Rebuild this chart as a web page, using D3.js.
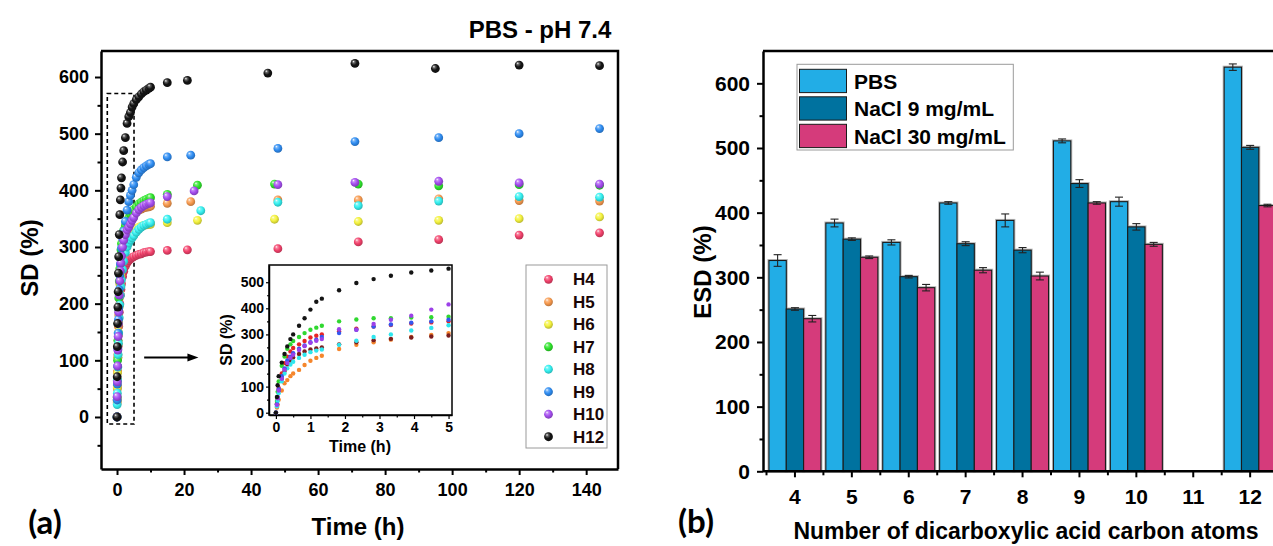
<!DOCTYPE html>
<html>
<head>
<meta charset="utf-8">
<script src="https://cdn.jsdelivr.net/npm/d3@7"></script>
<style>
  html, body { margin: 0; padding: 0; background: #fff; overflow: hidden; }
  svg { display: block; }
</style>
</head>
<body>
<svg id="chart" width="1273" height="546"></svg>
<script>
// ---------------- Panel (a): swelling degree vs time in PBS ----------------
const seriesNames  = ["H4", "H5", "H6", "H7", "H8", "H9", "H10", "H12"];
const seriesColors = ["#f2426c", "#f89a4e", "#f4f23e", "#2fe42c", "#34f0f0", "#2f8df2", "#a64ef0", "#141414"];

// dense sampling during the first 10 h
const earlyTimes = [0, 0.05, 0.1, 0.17, 0.25, 0.33, 0.42, 0.5, 0.67, 0.83, 1, 1.17, 1.33, 1.67, 2, 2.5, 3, 3.5, 4, 4.5, 5, 5.75, 6.5, 7.25, 8, 8.75, 9.5, 10];
const earlyValues = [
  [0, 30, 55, 80, 105, 125, 145, 160, 185, 200, 215, 225, 235, 248, 257, 266, 272, 276, 279, 281, 283, 285, 287, 288, 290, 291, 292, 292],
  [0, 25, 50, 80, 110, 135, 160, 180, 210, 235, 255, 270, 285, 305, 318, 330, 340, 347, 352, 356, 359, 362, 365, 367, 369, 370, 371, 372],
  [0, 28, 52, 78, 105, 128, 150, 168, 195, 218, 235, 250, 262, 278, 290, 302, 311, 318, 323, 327, 330, 333, 335, 337, 338, 339, 340, 340],
  [0, 35, 65, 100, 135, 165, 190, 210, 240, 262, 280, 295, 306, 320, 330, 338, 345, 352, 358, 362, 366, 371, 376, 379, 382, 384, 386, 387],
  [0, 22, 42, 65, 88, 110, 130, 148, 175, 198, 215, 230, 242, 260, 275, 290, 300, 307, 312, 316, 320, 326, 331, 335, 338, 340, 342, 343],
  [0, 30, 58, 90, 120, 148, 172, 192, 225, 250, 270, 285, 298, 315, 328, 345, 365, 380, 391, 400, 410, 423, 431, 436, 440, 443, 446, 447],
  [0, 36, 62, 90, 118, 142, 165, 185, 215, 240, 258, 272, 284, 300, 312, 322, 330, 335, 341, 347, 352, 360, 366, 370, 373, 375, 377, 378],
  [0, 71, 124, 165, 194, 221, 254, 283, 322, 357, 383, 404, 422, 450, 470, 493, 518, 530, 537, 547, 553, 560, 565, 570, 574, 577, 580, 582]
];

// sparse sampling up to 6 days
const lateTimes = [
  [15, 21, 48, 72, 96, 120, 144],
  [15, 22, 48, 72, 96, 120, 144],
  [15, 24, 47, 72, 96, 120, 144],
  [15, 24, 47, 72, 96, 120, 144],
  [15, 25, 48, 72, 96, 120, 144],
  [15, 22, 48, 71, 96, 120, 144],
  [15, 23, 48, 71, 96, 120, 144],
  [15, 21, 45, 71, 95, 120, 144]
];
const lateValues = [
  [294, 295, 297, 309, 313, 321, 325],
  [377, 380, 383, 383, 385, 382, 381],
  [343, 347, 349, 345, 347, 350, 353],
  [393, 409, 411, 411, 408, 410, 409],
  [349, 364, 379, 373, 381, 389, 388],
  [459, 462, 474, 486, 493, 500, 509],
  [389, 399, 410, 414, 416, 413, 411],
  [590, 594, 607, 624, 615, 621, 620]
];

const timeTicks      = [0, 20, 40, 60, 80, 100, 120, 140];
const timeMinorTicks = [10, 30, 50, 70, 90, 110, 130];
const sdTicks        = [0, 100, 200, 300, 400, 500, 600];
const sdMinorTicks   = [-50, 50, 150, 250, 350, 450, 550];

// inset: first 5 h
const insetTimes = [0, 0.03, 0.05, 0.08, 0.17, 0.25, 0.33, 0.42, 0.5, 0.67, 0.83, 1, 1.17, 1.33, 1.83, 2.33, 2.83, 3.33, 3.92, 4.5, 5.0];
const insetColors = ["#e82424", "#f5862c", "#7c1e1e", "#30d830", "#30e6ee", "#3258f0", "#9c40e8", "#141414"];
const insetValues = [
  [0, 35, 60, 95, 150, 190, 215, 235, 248, 262, 275, 288, 295, 300, 312, 322, 330, 336, 342, 346, 350],
  [0, 20, 30, 50, 85, 113, 125, 140, 150, 164, 183, 199, 210, 218, 244, 260, 270, 280, 290, 298, 305],
  [0, 30, 55, 85, 130, 160, 185, 200, 212, 225, 235, 242, 246, 250, 262, 270, 278, 283, 288, 292, 296],
  [0, 45, 80, 120, 180, 215, 245, 262, 275, 290, 305, 318, 326, 333, 350, 357, 362, 362, 365, 366, 368],
  [0, 25, 45, 75, 120, 150, 170, 185, 195, 210, 222, 232, 238, 242, 260, 276, 290, 300, 315, 325, 335],
  [0, 32, 58, 90, 140, 170, 200, 215, 228, 245, 258, 270, 280, 290, 305, 318, 330, 338, 345, 350, 356],
  [0, 30, 55, 85, 130, 165, 190, 210, 222, 240, 255, 268, 276, 282, 320, 318, 340, 356, 372, 395, 415],
  [0, 60, 105, 140, 192, 225, 254, 282, 300, 333, 362, 395, 425, 437, 469, 497, 512, 525, 537, 545, 552]
];
const insetTimeTicks  = [0, 1, 2, 3, 4, 5];
const insetTimeMinor  = [0.5, 1.5, 2.5, 3.5, 4.5];
const insetSdTicks    = [0, 100, 200, 300, 400, 500];
const insetSdMinor    = [50, 150, 250, 350, 450];

// ---------------- Panel (b): equilibrium swelling degree ----------------
const carbonAtoms  = ["4", "5", "6", "7", "8", "9", "10", "11", "12"];
const barSeries    = ["PBS", "NaCl 9 mg/mL", "NaCl 30 mg/mL"];
const barColors    = ["#22ade6", "#00729f", "#d53b7b"];
const pbsValues    = [326, 384, 354, 415, 388, 511, 417, null, 625];
const pbsErrors    = [9, 6, 4, 2, 10, 3, 7, null, 5];
const nacl9Values  = [251, 359, 301, 352, 342, 445, 378, null, 501];
const nacl9Errors  = [2, 2, 2, 3, 4, 6, 5, null, 3];
const nacl30Values = [236, 331, 284, 311, 302, 415, 351, null, 411];
const nacl30Errors = [5, 2, 5, 4, 6, 2, 3, null, 2];
const esdTicks      = [0, 100, 200, 300, 400, 500, 600];
const esdMinorTicks = [50, 150, 250, 350, 450, 550];

// ---------------------------------------------------------------------------
const FONT = '"Liberation Sans", Arial, sans-serif';
const svg = d3.select("#chart");
const defs = svg.append("defs");

// glossy sphere fills for the markers
seriesColors.forEach((c, i) => {
  const g = defs.append("radialGradient").attr("id", "ball" + i)
    .attr("cx", "45%").attr("cy", "42%").attr("r", "62%")
    .attr("fx", "32%").attr("fy", "28%");
  g.append("stop").attr("offset", "0%").attr("stop-color", "#ffffff");
  g.append("stop").attr("offset", "22%").attr("stop-color", d3.interpolateRgb(c, "#ffffff")(0.35));
  g.append("stop").attr("offset", "55%").attr("stop-color", c);
  g.append("stop").attr("offset", "100%").attr("stop-color", d3.color(c).darker(0.9).formatHex());
});

function styleAxis(g, size, domainWidth) {
  g.attr("font-family", FONT).attr("font-size", size).attr("font-weight", "bold");
  g.select(".domain").attr("stroke", "#000").attr("stroke-width", domainWidth);
  g.selectAll(".tick line").attr("stroke", "#000").attr("stroke-width", domainWidth * 0.8);
  g.selectAll(".tick text").attr("fill", "#000");
  return g;
}

// ===== Panel (a) =====
const xA = d3.scaleLinear().domain([-4.78, 149.5]).range([101, 618]);
const yA = d3.scaleLinear().domain([-91.8, 645.9]).range([469, 51]);

const pA = svg.append("g");

// frame (top / right)
pA.append("path").attr("d", `M${xA.range()[0]},${yA.range()[1]}H${xA.range()[1]}V${yA.range()[0]}`)
  .attr("fill", "none").attr("stroke", "#000").attr("stroke-width", 2.5);

styleAxis(pA.append("g").attr("transform", `translate(0,${yA.range()[0]})`)
  .call(d3.axisBottom(xA).tickValues(timeTicks).tickSize(6).tickSizeOuter(0).tickPadding(8)), 18, 2.5);
styleAxis(pA.append("g").attr("transform", `translate(0,${yA.range()[0]})`)
  .call(d3.axisBottom(xA).tickValues(timeMinorTicks).tickSize(3.5).tickFormat(() => "")), 18, 2.5)
  .select(".domain").remove();
styleAxis(pA.append("g").attr("transform", `translate(${xA.range()[0]},0)`)
  .call(d3.axisLeft(yA).tickValues(sdTicks).tickSize(6).tickSizeOuter(0).tickPadding(6)), 18, 2.5);
styleAxis(pA.append("g").attr("transform", `translate(${xA.range()[0]},0)`)
  .call(d3.axisLeft(yA).tickValues(sdMinorTicks).tickSize(3.5).tickFormat(() => "")), 18, 2.5)
  .select(".domain").remove();

// dashed box around the first hours
pA.append("rect")
  .attr("x", xA(-2.9)).attr("y", yA(571))
  .attr("width", xA(5.07) - xA(-2.9)).attr("height", yA(-12.3) - yA(571))
  .attr("fill", "none").attr("stroke", "#000").attr("stroke-width", 1.6).attr("stroke-dasharray", "4,3");

// arrow pointing to the inset
{
  const ay = yA(105), ax1 = xA(8.1), ax2 = xA(24.3);
  pA.append("line").attr("x1", ax1).attr("x2", ax2 - 9).attr("y1", ay).attr("y2", ay)
    .attr("stroke", "#000").attr("stroke-width", 2);
  pA.append("path").attr("d", `M${ax2},${ay}L${ax2 - 11},${ay - 4}L${ax2 - 11},${ay + 4}Z`).attr("fill", "#000");
}

// markers
const pointsA = pA.append("g");
seriesNames.forEach((name, i) => {
  const pts = earlyTimes.map((t, k) => [t, earlyValues[i][k]])
    .concat(lateTimes[i].map((t, k) => [t, lateValues[i][k]]));
  pointsA.append("g").selectAll("circle").data(pts).join("circle")
    .attr("cx", d => xA(d[0])).attr("cy", d => yA(d[1])).attr("r", 4.4)
    .attr("fill", `url(#ball${i})`);
});

// legend
{
  const lg = pA.append("g");
  lg.append("rect").attr("x", 526).attr("y", 265).attr("width", 81).attr("height", 183)
    .attr("fill", "#fff").attr("stroke", "#9a9a9a").attr("stroke-width", 1);
  seriesNames.forEach((name, i) => {
    const y = 279.3 + i * 22.49;
    lg.append("circle").attr("cx", 548.5).attr("cy", y).attr("r", 4.4).attr("fill", `url(#ball${i})`);
    lg.append("text").attr("x", 573).attr("y", y).attr("dy", "0.36em")
      .attr("font-family", FONT).attr("font-size", 17).attr("font-weight", "bold").attr("fill", "#1a0606")
      .text(name);
  });
}

// inset
const xI = d3.scaleLinear().domain([-0.2, 5.1]).range([269, 452]);
const yI = d3.scaleLinear().domain([-8.8, 566]).range([415, 265]);
{
  const gi = pA.append("g");
  gi.append("rect").attr("x", xI.range()[0]).attr("y", yI.range()[1])
    .attr("width", xI.range()[1] - xI.range()[0]).attr("height", yI.range()[0] - yI.range()[1])
    .attr("fill", "#fff").attr("stroke", "#000").attr("stroke-width", 1.5);
  styleAxis(gi.append("g").attr("transform", `translate(0,${yI.range()[0]})`)
    .call(d3.axisBottom(xI).tickValues(insetTimeTicks).tickFormat(d3.format("d"))
      .tickSize(4).tickSizeOuter(0).tickPadding(3)), 14, 1.5);
  styleAxis(gi.append("g").attr("transform", `translate(0,${yI.range()[0]})`)
    .call(d3.axisBottom(xI).tickValues(insetTimeMinor).tickSize(2.5).tickFormat(() => "")), 14, 1.5)
    .select(".domain").remove();
  styleAxis(gi.append("g").attr("transform", `translate(${xI.range()[0]},0)`)
    .call(d3.axisLeft(yI).tickValues(insetSdTicks).tickFormat(d3.format("d"))
      .tickSize(3).tickSizeOuter(0).tickPadding(2)), 14, 1.5);
  styleAxis(gi.append("g").attr("transform", `translate(${xI.range()[0]},0)`)
    .call(d3.axisLeft(yI).tickValues(insetSdMinor).tickSize(2).tickFormat(() => "")), 14, 1.5)
    .select(".domain").remove();

  insetValues.forEach((vals, i) => {
    gi.append("g").selectAll("circle").data(insetTimes.map((t, k) => [t, vals[k]])).join("circle")
      .attr("cx", d => xI(d[0])).attr("cy", d => yI(d[1])).attr("r", 2.2)
      .attr("fill", insetColors[i]);
  });

  gi.append("text").attr("x", 360).attr("y", 452).attr("text-anchor", "middle")
    .attr("font-family", FONT).attr("font-size", 16).attr("font-weight", "bold").text("Time (h)");
  gi.append("text").attr("transform", "translate(232,340) rotate(-90)").attr("text-anchor", "middle")
    .attr("font-family", FONT).attr("font-size", 16).attr("font-weight", "bold").text("SD (%)");
}

// titles (a)
pA.append("text").attr("x", 540).attr("y", 38).attr("text-anchor", "middle")
  .attr("font-family", FONT).attr("font-size", 24).attr("font-weight", "bold").text("PBS - pH 7.4");
pA.append("text").attr("x", 358).attr("y", 535).attr("text-anchor", "middle")
  .attr("font-family", FONT).attr("font-size", 24).attr("font-weight", "bold").text("Time (h)");
pA.append("text").attr("transform", "translate(38,258) rotate(-90)").attr("text-anchor", "middle")
  .attr("font-family", FONT).attr("font-size", 24).attr("font-weight", "bold").text("SD (%)");
pA.append("text").attr("x", 45).attr("y", 534).attr("text-anchor", "middle")
  .attr("font-family", "Lato, 'Open Sans', sans-serif").attr("font-size", 33).attr("font-weight", "bold").text("(a)");

// ===== Panel (b) =====
const xB = d3.scaleBand().domain(carbonAtoms).range([766.5, 1278.6]).padding(0);
const yB = d3.scaleLinear().domain([0, 650]).range([471.3, 51]);
const axisLeftX = 763;
const pB = svg.append("g");

// frame top
pB.append("line").attr("x1", axisLeftX).attr("x2", 1290).attr("y1", yB.range()[1]).attr("y2", yB.range()[1])
  .attr("stroke", "#000").attr("stroke-width", 2.5);

// bars
const groupWidth = xB.bandwidth() * 0.914;
const x1 = d3.scaleBand().domain(barSeries).range([0, groupWidth]).padding(0);
const barData = [];
[[pbsValues, pbsErrors], [nacl9Values, nacl9Errors], [nacl30Values, nacl30Errors]].forEach(([vals, errs], s) => {
  carbonAtoms.forEach((c, k) => {
    if (vals[k] != null) barData.push({ c, s, v: vals[k], e: errs[k] });
  });
});
const barX = d => xB(d.c) + (xB.bandwidth() - groupWidth) / 2 + x1(barSeries[d.s]);

const bars = pB.append("g");
bars.selectAll("rect.halo").data(barData).join("rect").attr("class", "halo")
  .attr("x", barX).attr("width", x1.bandwidth())
  .attr("y", d => yB(d.v)).attr("height", d => yB(0) - yB(d.v))
  .attr("fill", "none").attr("stroke", "#b8b8b8").attr("stroke-width", 3);
bars.selectAll("rect.bar").data(barData).join("rect").attr("class", "bar")
  .attr("x", barX).attr("width", x1.bandwidth())
  .attr("y", d => yB(d.v)).attr("height", d => yB(0) - yB(d.v))
  .attr("fill", d => barColors[d.s]).attr("stroke", "#1b1b1b").attr("stroke-width", 1.1);

// error bars
const eb = pB.append("g").attr("stroke", "#222").attr("stroke-width", 1.1);
barData.forEach(d => {
  const cx = barX(d) + x1.bandwidth() / 2;
  eb.append("line").attr("x1", cx).attr("x2", cx).attr("y1", yB(d.v - d.e)).attr("y2", yB(d.v + d.e));
  eb.append("line").attr("x1", cx - 4).attr("x2", cx + 4).attr("y1", yB(d.v + d.e)).attr("y2", yB(d.v + d.e));
  eb.append("line").attr("x1", cx - 4).attr("x2", cx + 4).attr("y1", yB(d.v - d.e)).attr("y2", yB(d.v - d.e));
});

// axes
styleAxis(pB.append("g").attr("transform", `translate(${axisLeftX},0)`)
  .call(d3.axisLeft(yB).tickValues(esdTicks).tickSize(6).tickSizeOuter(0).tickPadding(7)), 21, 2.5);
styleAxis(pB.append("g").attr("transform", `translate(${axisLeftX},0)`)
  .call(d3.axisLeft(yB).tickValues(esdMinorTicks).tickSize(3.5).tickFormat(() => "")), 21, 2.5)
  .select(".domain").remove();
const xAxisB = styleAxis(pB.append("g").attr("transform", `translate(0,${yB(0)})`)
  .call(d3.axisBottom(xB).tickSize(6).tickSizeOuter(0).tickPadding(12)), 21, 2.5);
xAxisB.select(".domain").remove();
pB.append("line").attr("x1", axisLeftX).attr("x2", 1290).attr("y1", yB(0)).attr("y2", yB(0))
  .attr("stroke", "#000").attr("stroke-width", 2.5);
pB.append("g").selectAll("line").data(carbonAtoms).join("line")
  .attr("x1", c => xB(c)).attr("x2", c => xB(c))
  .attr("y1", yB(0)).attr("y2", yB(0) + 4)
  .attr("stroke", "#000").attr("stroke-width", 2);

// legend
{
  const lg = pB.append("g");
  lg.append("rect").attr("x", 797).attr("y", 64.3).attr("width", 216.3).attr("height", 85.7)
    .attr("fill", "#fff").attr("stroke", "#9a9a9a").attr("stroke-width", 1);
  barSeries.forEach((name, i) => {
    const y = 69.3 + i * 27.5;
    lg.append("rect").attr("x", 799.5).attr("y", y).attr("width", 47).attr("height", 23.3)
      .attr("fill", barColors[i]).attr("stroke", "#1b1b1b").attr("stroke-width", 1);
    lg.append("text").attr("x", 854).attr("y", y + 11.7).attr("dy", "0.36em")
      .attr("font-family", FONT).attr("font-size", 21).attr("font-weight", "bold").attr("fill", "#000")
      .text(name);
  });
}

// titles (b)
pB.append("text").attr("x", 1026).attr("y", 539).attr("text-anchor", "middle")
  .attr("font-family", FONT).attr("font-size", 23).attr("font-weight", "bold")
  .text("Number of dicarboxylic acid carbon atoms");
pB.append("text").attr("transform", "translate(711,272) rotate(-90)").attr("text-anchor", "middle")
  .attr("font-family", FONT).attr("font-size", 24).attr("font-weight", "bold").text("ESD (%)");
pB.append("text").attr("x", 696).attr("y", 533).attr("text-anchor", "middle")
  .attr("font-family", "Lato, 'Open Sans', sans-serif").attr("font-size", 33).attr("font-weight", "bold").text("(b)");
</script>
</body>
</html>
